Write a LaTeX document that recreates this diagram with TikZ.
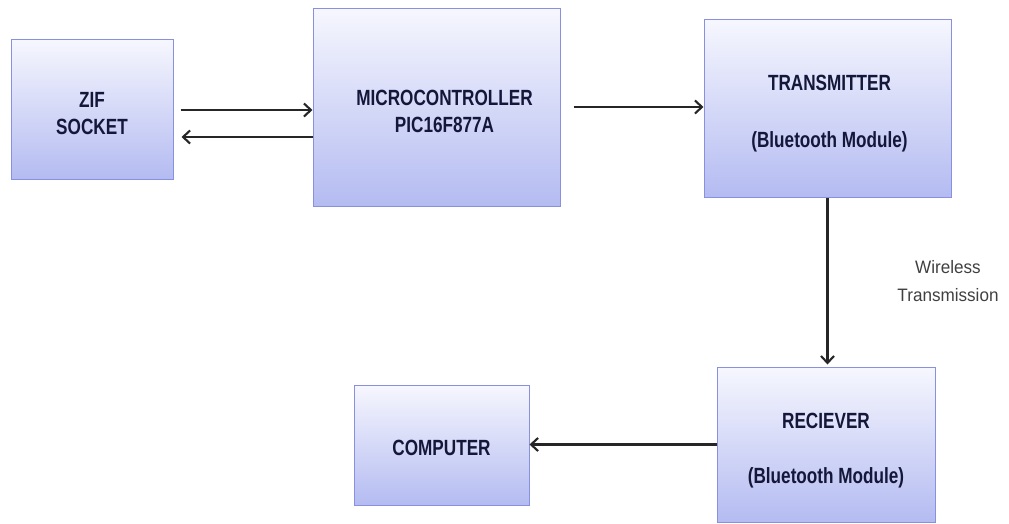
\documentclass[tikz,border=0pt]{standalone}
\usepackage{fontspec}
\usetikzlibrary{arrows.meta,calc}
\newfontfamily\boxfont{Liberation Sans}[FakeStretch=0.78]
\newfontfamily\notefont{Liberation Sans}[FakeStretch=0.95]
\definecolor{boxtop}{HTML}{F6F7FE}
\definecolor{boxbot}{HTML}{B4BBF1}
\definecolor{boxline}{HTML}{8A90E0}
\definecolor{boxtext}{HTML}{15173A}
\definecolor{arrcol}{HTML}{262626}
\tikzset{
  blockbox/.style={draw=boxline, line width=1pt, top color=boxtop, bottom color=boxbot,
    inner sep=0pt},
  blocktext/.style={align=center, text=boxtext, inner sep=0pt, yshift=-5pt,
    font=\boxfont\bfseries\fontsize{22}{27}\selectfont},
  arr/.style={draw=arrcol, line width=2.1pt, -{Straight Barb[length=7pt,width=13pt,line width=2.1pt]}},
  notetext/.style={align=center, text=black!75, font=\notefont\fontsize{18}{28}\selectfont}
}
\begin{document}
\begin{tikzpicture}[x=1pt,y=-1pt]
\useasboundingbox (0,0) rectangle (1009,523);
\node[blockbox, minimum width=162pt, minimum height=140pt,
  label={[blocktext]center:{ZIF\\SOCKET}}] (zif) at (92,109) {};
\node[blockbox, minimum width=247pt, minimum height=198pt,
  label={[blocktext, xshift=8pt, yshift=1pt]center:{MICROCONTROLLER\\PIC16F877A}}] (mc) at (436.5,107) {};
\node[blockbox, minimum width=247pt, minimum height=178pt,
  label={[blocktext, xshift=2pt, yshift=-1pt]center:{TRANSMITTER\\[30pt](Bluetooth Module)}}] (tx) at (827.5,108) {};
\node[blockbox, minimum width=218pt, minimum height=155pt,
  label={[blocktext, yshift=-1pt]center:{RECIEVER\\[28pt](Bluetooth Module)}}] (rx) at (826,444.5) {};
\node[blockbox, minimum width=175pt, minimum height=120pt,
  label={[blocktext, yshift=2pt]center:{COMPUTER}}] (comp) at (441.5,445) {};
\node[notetext] (note) at (948,281) {Wireless\\Transmission};
\coordinate (a1s) at ($(zif.east)+(0,1)$);
\coordinate (a2s) at ($(zif.east)+(0,28)$);
\draw[arr, shorten <=7pt] (a1s) -- (a1s -| mc.west);
\draw[arr, shorten >=8pt] (a2s -| mc.west) -- (a2s);
\draw[arr, shorten <=13pt] (mc.east) -- (mc.east -| tx.west);
\draw[arr, shorten >=2pt] (tx.south) -- (tx.south |- rx.north);
\draw[arr] (rx.west) -- (rx.west -| comp.east);
\end{tikzpicture}
\end{document}
